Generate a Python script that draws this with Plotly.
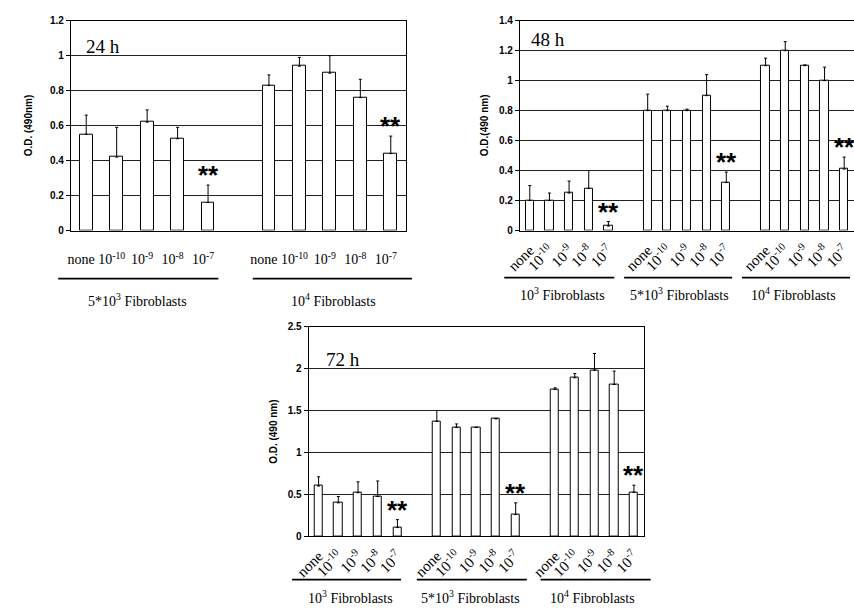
import plotly.graph_objects as go

W, H = 854, 612

# ---------------- data ----------------
conc_labels = ["none", "10<sup>-10</sup>", "10<sup>-9</sup>", "10<sup>-8</sup>", "10<sup>-7</sup>"]
groups_24h = ["5*10<sup>3</sup> Fibroblasts", "10<sup>4</sup> Fibroblasts"]
groups_48_72 = ["10<sup>3</sup> Fibroblasts", "5*10<sup>3</sup> Fibroblasts", "10<sup>4</sup> Fibroblasts"]

od_24h = [0.55, 0.42, 0.62, 0.525, 0.16,
          0.83, 0.94, 0.90, 0.76, 0.44]
err_24h = [0.11, 0.17, 0.07, 0.065, 0.10,
           0.06, 0.05, 0.10, 0.105, 0.10]

od_48h = [0.20, 0.20, 0.25, 0.28, 0.03,
          0.80, 0.80, 0.80, 0.90, 0.32,
          1.10, 1.20, 1.10, 1.00, 0.41]
err_48h = [0.10, 0.05, 0.08, 0.12, 0.03,
           0.11, 0.03, 0.01, 0.14, 0.07,
           0.05, 0.06, 0.005, 0.09, 0.08]

od_72h = [0.60, 0.40, 0.52, 0.475, 0.105,
          1.37, 1.30, 1.30, 1.40, 0.26,
          1.75, 1.89, 1.98, 1.81, 0.525]
err_72h = [0.11, 0.075, 0.13, 0.185, 0.095,
           0.13, 0.04, 0.0, 0.005, 0.14,
           0.02, 0.05, 0.20, 0.16, 0.085]

y_ticks_24h = [0, 0.2, 0.4, 0.6, 0.8, 1, 1.2]
y_ticks_48h = [0, 0.2, 0.4, 0.6, 0.8, 1, 1.2, 1.4]
y_ticks_72h = [0, 0.5, 1, 1.5, 2, 2.5]
tick_text_24h = ["0", "0.2", "0.4", "0.6", "0.8", "1", "1.2"]
tick_text_48h = ["0", "0.2", "0.4", "0.6", "0.8", "1", "1.2", "1.4"]
tick_text_72h = ["0", "0.5", "1", "1.5", "2", "2.5"]

panel_titles = ["24 h", "48 h", "72 h"]
y_titles = ["O.D. (490nm)", "O.D.(490 nm)", "O.D. (490 nm)"]

# ---------------- helpers ----------------
def px(x):
    return x / W

def py(y):
    return 1 - y / H

SERIF = "Liberation Serif"
SANS = "Liberation Sans"


def positions(n_groups):
    pos = []
    for g in range(n_groups):
        for c in range(len(conc_labels)):
            pos.append(g * (len(conc_labels) + 1) + c)
    return pos


fig = go.Figure()

panels = [
    dict(od=od_24h, err=err_24h, groups=groups_24h, xd=(57, 398), yd=(15, 229),
         yr=[0, 1.2], yt=y_ticks_24h, ytt=tick_text_24h, rotate=False),
    dict(od=od_48h, err=err_48h, groups=groups_48_72, xd=(514, 854), yd=(15, 229),
         yr=[0, 1.4], yt=y_ticks_48h, ytt=tick_text_48h, rotate=True),
    dict(od=od_72h, err=err_72h, groups=groups_48_72, xd=(299, 640), yd=(327, 541),
         yr=[0, 2.5], yt=y_ticks_72h, ytt=tick_text_72h, rotate=True),
]

annotations = []
shapes = []

for i, p in enumerate(panels):
    n = i + 1
    xa = "x" if n == 1 else f"x{n}"
    ya = "y" if n == 1 else f"y{n}"
    xkey = "xaxis" if n == 1 else f"xaxis{n}"
    ykey = "yaxis" if n == 1 else f"yaxis{n}"
    ng = len(p["groups"])
    pos = positions(ng)
    fig.add_trace(go.Bar(
        x=pos, y=p["od"], xaxis=xa, yaxis=ya,
        width=0.42,
        marker=dict(color="white", line=dict(color="black", width=1)),
        error_y=dict(type="data", symmetric=False, array=p["err"],
                     arrayminus=[0] * len(p["err"]), color="black",
                     thickness=1, width=1.5),
        showlegend=False,
    ))
    last = max(pos) + 0.5
    xaxis = dict(
        domain=[px(p["xd"][0]), px(p["xd"][1])],
        anchor=ya, range=[-0.5, last],
        tickmode="array", tickvals=pos, ticktext=conc_labels * ng,
        ticks="", showgrid=False, zeroline=False,
        showline=True, linecolor="black", linewidth=1.2, mirror=True,
        tickfont=dict(family=SERIF, size=14, color="black"),
    )
    if p["rotate"]:
        xaxis.update(tickangle=-45, ticklabelstandoff=4,
                     tickfont=dict(family=SERIF, size=15, color="black"))
    else:
        xaxis.update(tickangle=0, ticklabelstandoff=16, ticklabelshift=-5)
    yaxis = dict(
        domain=[py(p["yd"][1]), py(p["yd"][0])],
        anchor=xa, range=p["yr"],
        tickmode="array", tickvals=p["yt"], ticktext=p["ytt"],
        ticks="outside", ticklen=4, tickcolor="black",
        showgrid=True, gridcolor="#222", gridwidth=1, zeroline=False,
        showline=True, linecolor="black", linewidth=1.2,
        mirror=(i != 1),
        tickfont=dict(family=SANS, size=10, color="black", weight="bold"),
    )
    fig.update_layout({xkey: xaxis, ykey: yaxis})

    # significance markers above the 10^-7 bars
    for g in range(ng):
        k = g * len(conc_labels) + 4
        annotations.append(dict(
            x=pos[k], y=p["od"][k] + p["err"][k], xref=xa, yref=ya,
            text="**", showarrow=False, yanchor="middle", yshift=10,
            font=dict(family=SANS, size=26, color="black", weight="bold"),
        ))

# panel titles
title_pos = [(70, 41), (523, 34), (315, 361)]
for t, (x, y) in zip(panel_titles, title_pos):
    annotations.append(dict(x=px(x), y=py(y), xref="paper", yref="paper",
                            text=t, showarrow=False, xanchor="left", yanchor="middle",
                            font=dict(family=SERIF, size=19, color="black")))

# y-axis titles
ytitle_pos = [(14, 122), (478, 122), (263, 434)]
for t, (x, y) in zip(y_titles, ytitle_pos):
    annotations.append(dict(x=px(x), y=py(y), xref="paper", yref="paper",
                            text=t, showarrow=False, textangle=-90,
                            xanchor="center", yanchor="middle",
                            font=dict(family=SANS, size=10, color="black", weight="bold")))

# group bracket lines and labels
group_lines = [
    ([(44, 207), (242, 404)], 278, [125, 324], 300, groups_24h),
    ([(498, 610), (620, 730), (740, 850)], 277, [557, 676, 792], 294, groups_48_72),
    ([(282, 393), (409, 521), (535, 647)], 585, [342, 464, 588], 603, groups_48_72),
]
for segs, ly, centers, ty, labels in group_lines:
    for (x0, x1) in segs:
        shapes.append(dict(type="line", xref="paper", yref="paper",
                           x0=px(x0), x1=px(x1), y0=py(ly), y1=py(ly),
                           line=dict(color="black", width=1.8)))
    for c, lab in zip(centers, labels):
        annotations.append(dict(x=px(c), y=py(ty), xref="paper", yref="paper",
                                text=lab, showarrow=False, xanchor="center", yanchor="middle",
                                font=dict(family=SERIF, size=14, color="black")))

fig.update_layout(
    width=W, height=H,
    margin=dict(l=0, r=0, t=0, b=0),
    paper_bgcolor="white", plot_bgcolor="white",
    annotations=annotations, shapes=shapes,
    bargap=0,
)

fig.write_html("out.html")
